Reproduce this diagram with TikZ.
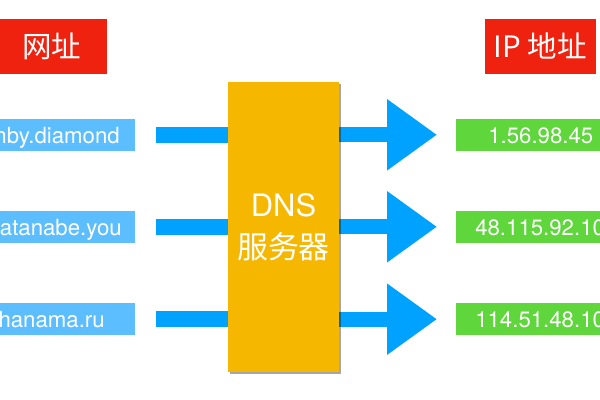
\documentclass[tikz,border=0pt]{standalone}
\usepackage{fontspec}
\setmainfont{TeX Gyre Heros}
\newfontfamily\cjk{Noto Sans CJK SC}
\usetikzlibrary{positioning, arrows.meta, shadows, backgrounds}
\definecolor{HdrRed}{RGB}{238,34,14}
\definecolor{UrlBlue}{RGB}{92,190,255}
\definecolor{BarBlue}{RGB}{0,162,255}
\definecolor{SrvGold}{RGB}{245,183,0}
\definecolor{IpGreen}{RGB}{94,214,60}

\begin{document}
\begin{tikzpicture}[
          hdr/.style={rectangle, fill=HdrRed, text=white, inner sep=0pt,
                      minimum width=2.775cm, minimum height=1.375cm,
                      font=\fontsize{21}{25}\selectfont\cjk},
          urlbox/.style={rectangle, fill=UrlBlue, inner sep=0pt,
                      minimum width=3.7cm, minimum height=0.81cm, anchor=east},
          ipbox/.style={rectangle, fill=IpGreen, inner sep=0pt,
                      minimum width=4cm, minimum height=0.81cm, anchor=west},
          lbl/.style={text=white, inner sep=0pt,
                      font=\fontsize{15.8}{19}\selectfont},
          srv/.style={rectangle, fill=SrvGold, text=white, align=center,
                      minimum width=2.775cm, minimum height=7.25cm,
                      font=\fontsize{22}{30}\selectfont,
                      drop shadow={shadow xshift=1.6pt, shadow yshift=-1.6pt,
                                   fill=black, opacity=0.35}},
          bar/.style={BarBlue, line width=0.4cm},
          arr/.style={BarBlue, line width=0.375cm,
                      -{Triangle[length=1.25cm, width=1.7cm]}}
        ]
        \useasboundingbox (0,0) rectangle (15,10);
        \clip (0,0) rectangle (15,10);

        % Headers
        \node[hdr] (hdrurl) at (1.29, 8.84) {网址};
        \node[hdr] (hdrip) at (13.51, 8.84) {IP {\cjk 地址}};

        % DNS server
        \node[srv] (dns) at (7.0875, 4.325) {DNS\\{\cjk 服务器}};

        % Rows: url -> server -> ip
        \foreach \i/\y/\u/\ux/\ip/\ix in {1/6.63/nby.diamond/3.0/1.56.98.45/12.2,
                                          2/4.33/atanabe.you/3.05/48.115.92.10/11.875,
                                          3/2.02/hanama.ru/2.625/114.51.48.10/11.875} {
          \node[urlbox] (url\i) at (3.39, \y) {};
          \node[lbl, anchor=base east] (urltxt\i) at (\ux, \y-0.21) {\u};
          \node[ipbox] (ip\i) at (11.4, \y) {};
          \node[lbl, anchor=base west] (iptxt\i) at (\ix, \y-0.21) {\ip};
          \begin{scope}[on background layer]
            \draw[bar, shorten <=0.5cm] (url\i.east) -- (dns.west |- url\i.east);
            \draw[arr, shorten >=0.475cm] (dns.east |- ip\i.west) -- (ip\i.west);
          \end{scope}
        }
      \end{tikzpicture}
\end{document}
